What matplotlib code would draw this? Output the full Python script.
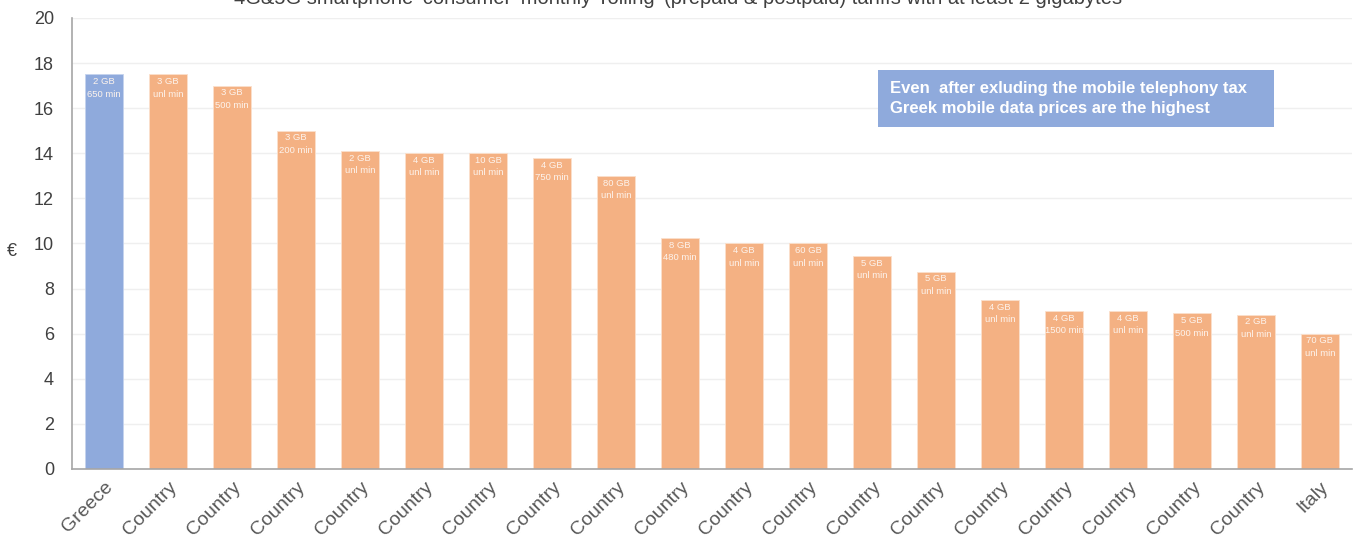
import matplotlib.pyplot as plt
from matplotlib.patches import Rectangle

plt.rcParams["font.family"] = ["Liberation Sans", "DejaVu Sans"]

countries = ["Greece"] + ["Country"] * 18 + ["Italy"]
prices = [17.5, 17.5, 17.0, 15.0, 14.1, 14.0, 14.0, 13.8, 13.0, 10.25,
          10.0, 10.0, 9.45, 8.75, 7.5, 7.0, 7.0, 6.9, 6.85, 6.0]
data_gb = ["2 GB", "3 GB", "3 GB", "3 GB", "2 GB", "4 GB", "10 GB", "4 GB", "80 GB", "8 GB",
           "4 GB", "60 GB", "5 GB", "5 GB", "4 GB", "4 GB", "4 GB", "5 GB", "2 GB", "70 GB"]
minutes = ["650 min", "unl min", "500 min", "200 min", "unl min", "unl min", "unl min", "750 min",
           "unl min", "480 min", "unl min", "unl min", "unl min", "unl min", "unl min", "1500 min",
           "unl min", "500 min", "unl min", "unl min"]

blue = "#8faadc"
orange = "#f4b183"
colors = [blue] + [orange] * (len(prices) - 1)

fig = plt.figure(figsize=(13.57, 5.4), dpi=100)
ax = fig.add_axes([0.0531, 0.1315, 0.9432, 0.8352])

x = range(len(prices))
bars = ax.bar(x, prices, width=0.58, color=colors, edgecolor="#fbe0cc", linewidth=0.6, zorder=2)
bars[0].set_edgecolor("#c5d3ee")

for i, b in enumerate(bars):
  ax.text(b.get_x() + b.get_width() / 2, prices[i] - 0.12, data_gb[i] + "\n" + minutes[i],
          ha="center", va="top", fontsize=6.8, color="#fdf3ec", linespacing=1.5, zorder=3)

ax.set_xlim(-0.5, len(prices) - 0.5)
ax.set_ylim(0, 20)
ax.set_yticks(range(0, 21, 2))
ax.yaxis.grid(True, color="#efefef", linewidth=1, zorder=0)
ax.set_axisbelow(True)
ax.tick_params(axis="both", length=0)
ax.tick_params(axis="y", labelsize=13, labelcolor="#404040", pad=13)
ax.set_xticks(list(x))
ax.set_xticklabels(countries, rotation=45, ha="right", rotation_mode="anchor",
                   fontsize=14, color="#595959")
ax.tick_params(axis="x", pad=7)
for s in ["top", "right"]:
  ax.spines[s].set_visible(False)
ax.spines["left"].set_color("#a6a6a6")
ax.spines["bottom"].set_color("#a6a6a6")
ax.spines["left"].set_linewidth(1.2)
ax.spines["bottom"].set_linewidth(1.2)

fig.text(12 / 1357, 1 - 252 / 540, "€", fontsize=13, color="#404040", ha="center", va="center")

fig.text(0.5, 1.003, "4G&5G smartphone 'consumer' monthly 'rolling' (prepaid & postpaid) tariffs with at least 2 gigabytes",
         ha="center", va="center", fontsize=14.5, color="#404040")

# note box
ax.add_patch(Rectangle((0.6297, 0.7583), 0.3094, 0.1264, transform=ax.transAxes,
                       facecolor=blue, edgecolor="none", zorder=4))
ax.text(0.6391, 0.8215, "Even  after exluding the mobile telephony tax\nGreek mobile data prices are the highest",
        transform=ax.transAxes, ha="left", va="center", fontsize=12, fontweight="bold",
        color="white", linespacing=1.45, zorder=5)

plt.savefig("out.png")
plt.close()
